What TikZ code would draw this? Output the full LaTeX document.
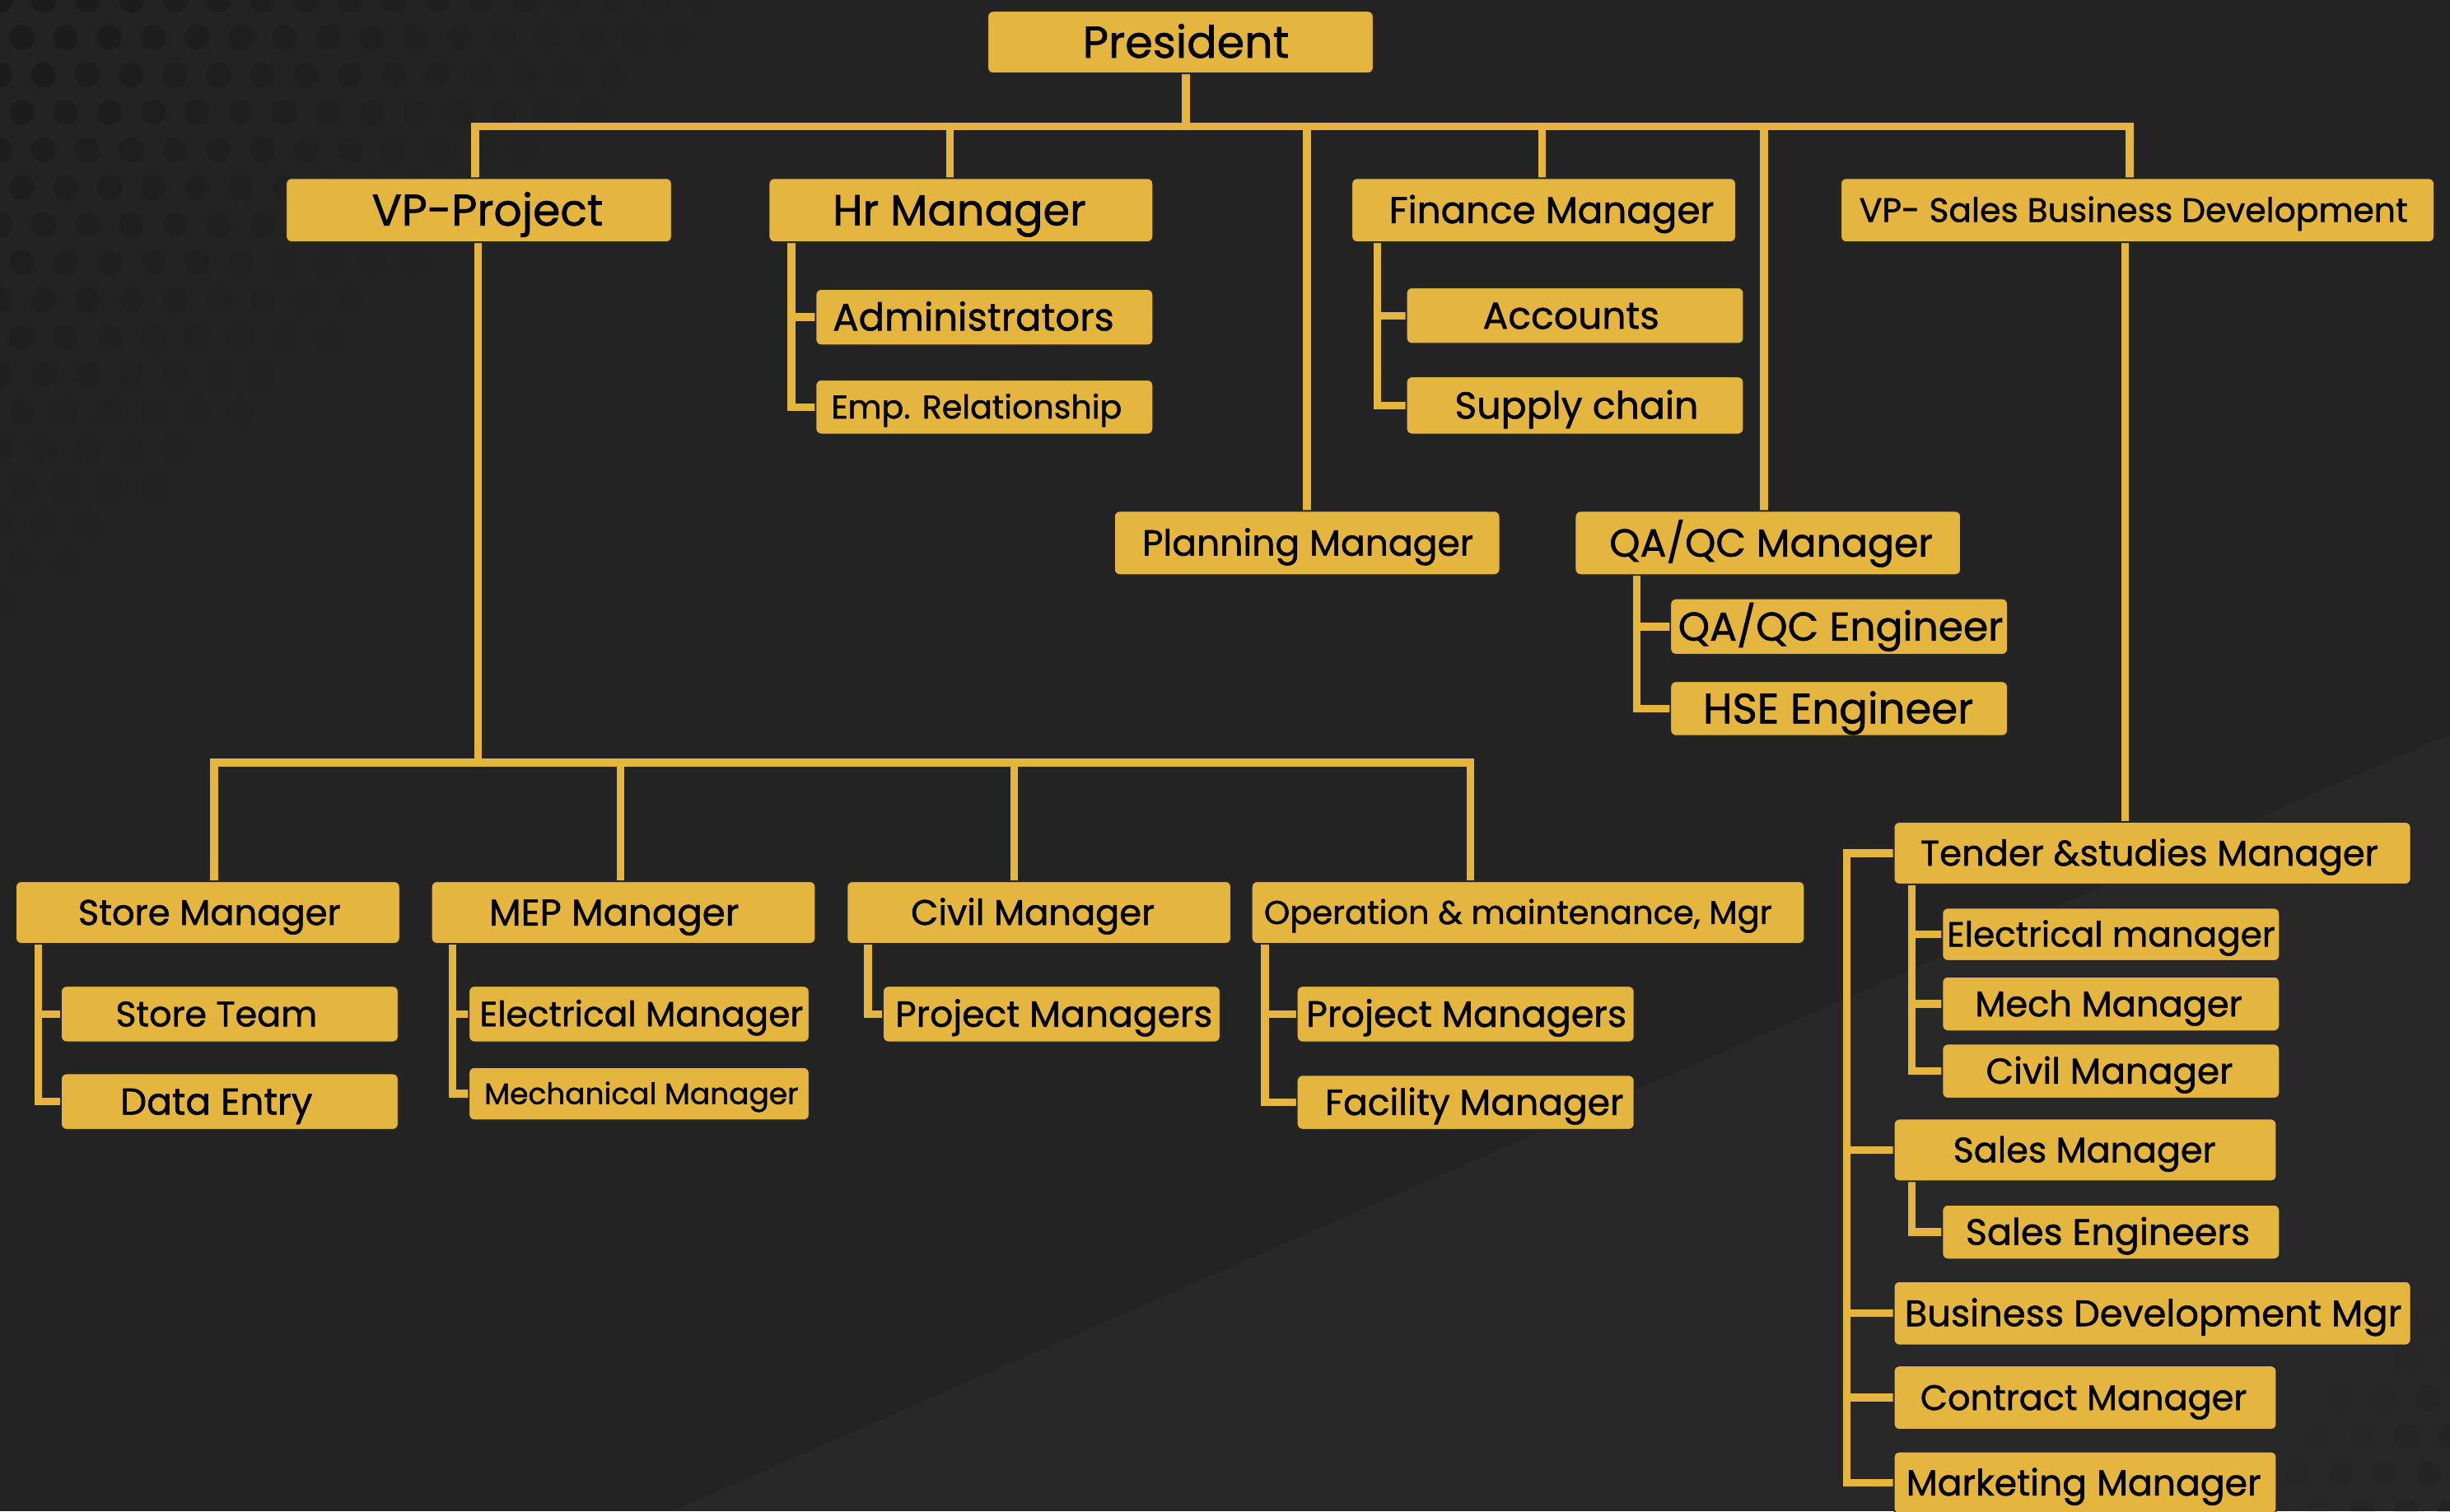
\documentclass[tikz,border=0pt]{standalone}
\usepackage{fontspec}
\setmainfont{Poppins}[FakeBold=1.2]
\usepackage{graphicx}
\definecolor{gold}{HTML}{E4B53F}
\definecolor{bgc}{HTML}{232323}
\pgfdeclarelayer{back}
\pgfdeclarelayer{lines}
\pgfsetlayers{back,lines,main}
\tikzset{
  gbox/.style={draw=black!85, line width=1pt, fill=gold, rounded corners=3.5pt, inner sep=0pt},
  gtxt/.style={inner sep=0pt, text=black},
  ln/.style={draw=gold, line width=5pt, line cap=rect, line join=miter}
}
\newcommand\obox[8]{%
  \node[gbox, minimum width={(#4-#2)*1pt}, minimum height={(#5-#3)*1pt}] (#1) at ({(#2+#4)/2},{(#3+#5)/2}) {};
  \node[gtxt] (#1t) at (#6,{(#3+#5)/2}) {\resizebox{#7pt}{!}{\vphantom{H}\smash{#8}}};
}
\begin{document}
\begin{tikzpicture}[x=1pt,y=-1pt]
\useasboundingbox (0,0) rectangle (1568,967.2);
\clip (0,0) rectangle (1568,967.2);
\begin{pgfonlayer}{back}
\fill[bgc] (0,0) rectangle (1568,967.2);
\fill[white, opacity=0.025] (430,967.2) -- (1568,470) -- (1568,967.2) -- cycle;
\foreach \i in {0,...,20}{\foreach \j in {0,...,18}{
  \pgfmathsetmacro\xx{\i*28+mod(\j,2)*14}
  \pgfmathsetmacro\yy{\j*24}
  \pgfmathsetmacro\op{max(0,0.22*(1-\xx/470-\yy/400))}
  \fill[black, opacity=\op] (\xx,\yy) circle (8pt);
}}
\foreach \i in {0,...,5}{\foreach \j in {0,...,6}{
  \pgfmathsetmacro\xx{1568-\i*28-mod(\j,2)*14}
  \pgfmathsetmacro\yy{967-\j*24}
  \pgfmathsetmacro\op{max(0,0.12*(1-\i/5-\j/6))}
  \fill[black, opacity=\op] (\xx,\yy) circle (8pt);
}}
\end{pgfonlayer}

% boxes
\obox{pres}{632}{7}{879}{47}{759}{132}{President}
\obox{vpp}{183}{114}{430}{155}{312}{148}{VP-Project}
\obox{hr}{492}{114}{738}{155}{614}{162}{Hr Manager}
\obox{fin}{865}{114}{1111}{155}{993}{208}{Finance Manager}
\obox{vps}{1178}{114}{1558}{155}{1365.5}{351}{VP- Sales Business Development}
\obox{adm}{522}{185}{738}{221}{623}{180}{Administrators}
\obox{emp}{522}{243}{738}{278}{625}{186}{Emp. Relationship}
\obox{acc}{900}{184}{1116}{220}{1005.5}{113}{Accounts}
\obox{sup}{900}{241}{1116}{278}{1009}{156}{Supply chain}
\obox{plan}{713}{327}{960}{368}{837}{212}{Planning Manager}
\obox{qa}{1008}{327}{1255}{368}{1133.5}{207}{QA/QC Manager}
\obox{qae}{1069}{383}{1285}{419}{1178}{208}{QA/QC Engineer}
\obox{hse}{1069}{436}{1285}{471}{1176.5}{173}{HSE Engineer}
\obox{stm}{10}{564}{256}{604}{134}{168}{Store Manager}
\obox{stt}{39}{631}{255}{667}{138.5}{129}{Store Team}
\obox{dat}{39}{687}{255}{723}{138.5}{123}{Data Entry}
\obox{mep}{276}{564}{522}{604}{393}{160}{MEP Manager}
\obox{ele}{300}{631}{518}{667}{410.5}{207}{Electrical Manager}
\obox{mec}{300}{683}{518}{717}{410.5}{201}{Mechanical Manager}
\obox{civ}{542}{564}{788}{604}{661}{156}{Civil Manager}
\obox{pma}{565}{631}{781}{667}{674.5}{203}{Project Managers}
\obox{om}{801}{564}{1155}{604}{971.5}{325}{Operation \& maintenance, Mgr}
\obox{pmb}{830}{631}{1046}{667}{938.5}{205}{Project Managers}
\obox{fac}{830}{688}{1046}{723}{943.5}{191}{Facility Manager}
\obox{ten}{1212}{526}{1543}{566}{1375.5}{293}{Tender \&studies Manager}
\obox{tel}{1243}{581}{1459}{615}{1351}{210}{Electrical manager}
\obox{tme}{1243}{625}{1459}{660}{1349.5}{171}{Mech Manager}
\obox{tci}{1243}{668}{1459}{703}{1350}{158}{Civil Manager}
\obox{sal}{1212}{716}{1457}{756}{1334}{168}{Sales Manager}
\obox{sae}{1243}{771}{1459}{806}{1349}{182}{Sales Engineers}
\obox{bdm}{1212}{820}{1543}{861}{1378}{318}{Business Development Mgr}
\obox{con}{1212}{874}{1457}{915}{1333.5}{209}{Contract Manager}
\obox{mkt}{1212}{929}{1457}{969}{1333.5}{227}{Marketing Manager}

\begin{pgfonlayer}{lines}
% top level
\coordinate (j0) at (759,81);
\draw[ln] (pres.south -| j0) -- (j0);
\draw[ln] ([xshift=-2.5pt]vpp.north) |- (j0) -| ([xshift=-5pt]vps.north);
\draw[ln] ([xshift=-7pt]hr.north) -- ([xshift=-7pt]hr.north |- j0);
\draw[ln] ([xshift=-1pt]fin.north) -- ([xshift=-1pt]fin.north |- j0);
\draw[ln] (plan.north) -- (plan.north |- j0);
\draw[ln] ([xshift=-2.5pt]qa.north) -- ([xshift=-2.5pt]qa.north |- j0);
% HR
\draw[ln] ([xshift=15pt]hr.south west) |- (adm.west);
\draw[ln] ([xshift=15pt]hr.south west) |- (emp.west);
% Finance
\draw[ln] ([xshift=17pt]fin.south west) |- (acc.west);
\draw[ln] ([xshift=17pt]fin.south west) |- (sup.west);
% QA
\draw[ln] ([xshift=40pt]qa.south west) |- (qae.west);
\draw[ln] ([xshift=40pt]qa.south west) |- (hse.west);
% VP project
\coordinate (j1) at (306,488);
\coordinate (d1) at (137,488);
\coordinate (d2) at (397,488);
\coordinate (d3) at (649,488);
\coordinate (d4) at (941,488);
\draw[ln] (vpp.south -| j1) -- (j1);
\draw[ln] (d1 |- stm.north) -- (d1) -- (d4) -- (d4 |- om.north);
\draw[ln] (d2) -- (d2 |- mep.north);
\draw[ln] (d3) -- (d3 |- civ.north);
\draw[ln] ([xshift=15pt]stm.south west) |- (stt.west);
\draw[ln] ([xshift=15pt]stm.south west) |- (dat.west);
\draw[ln] ([xshift=14pt]mep.south west) |- (ele.west);
\draw[ln] ([xshift=14pt]mep.south west) |- (mec.west);
\draw[ln] ([xshift=14pt]civ.south west) |- (pma.west);
\draw[ln] ([xshift=9pt]om.south west) |- (pmb.west);
\draw[ln] ([xshift=9pt]om.south west) |- (fac.west);
% VP sales
\coordinate (j2) at (1360,526);
\coordinate (sx) at (1182,544);
\draw[ln] (j2 |- vps.south) -- (j2);
\draw[ln] (ten.west -| sx) -- (mkt.west -| sx);
\foreach \n in {ten,sal,bdm,con,mkt}{\draw[ln] (\n.west) -- (\n.west -| sx);}
\draw[ln] ([xshift=12pt]ten.south west) |- (tel.west);
\draw[ln] ([xshift=12pt]ten.south west) |- (tme.west);
\draw[ln] ([xshift=12pt]ten.south west) |- (tci.west);
\draw[ln] ([xshift=12pt]sal.south west) |- (sae.west);
\end{pgfonlayer}
\end{tikzpicture}
\end{document}
